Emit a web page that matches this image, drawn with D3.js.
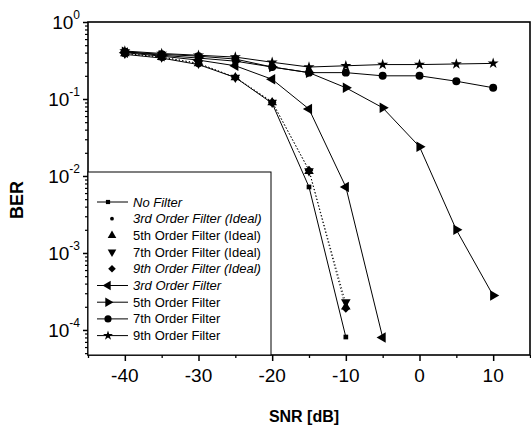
<!DOCTYPE html>
<html>
<head>
<meta charset="utf-8">
<script src="https://cdn.jsdelivr.net/npm/d3@7/dist/d3.min.js"></script>
<style>
  html, body { margin: 0; padding: 0; background: #fff; }
  svg { display: block; }
  text { font-family: "Liberation Sans", Arial, sans-serif; fill: #000; }
</style>
</head>
<body>
<svg id="chart" width="531" height="434"></svg>
<script>
// ---- data ----
const snr = [-40, -35, -30, -25, -20, -15, -10, -5, 0, 5, 10];
const xTicks = [-40, -30, -20, -10, 0, 10];
const xMinorTicks = [-45, -35, -25, -15, -5, 5, 15];
const yTickExps = [0, -1, -2, -3, -4];

const noFilter      = [0.38, 0.34, 0.28, 0.19, 0.088, 0.0072, 8.1e-5];
const ideal3        = [0.39, 0.35, 0.29, 0.19, 0.092, 0.0118, 2.2e-4];
const ideal5        = [0.39, 0.35, 0.29, 0.19, 0.090, 0.0115, 2.0e-4];
const ideal7        = [0.39, 0.35, 0.29, 0.19, 0.090, 0.0116, 2.3e-4];
const ideal9        = [0.39, 0.35, 0.29, 0.19, 0.091, 0.0119, 1.9e-4];
const filter3       = [0.40, 0.36, 0.32, 0.27, 0.18, 0.074, 0.0072, 8.0e-5];
const filter5       = [0.41, 0.37, 0.34, 0.31, 0.26, 0.22, 0.14, 0.077, 0.024, 0.0020, 2.8e-4];
const filter7       = [0.41, 0.38, 0.36, 0.33, 0.26, 0.22, 0.22, 0.20, 0.20, 0.17, 0.14];
const filter9       = [0.42, 0.39, 0.37, 0.35, 0.30, 0.26, 0.27, 0.28, 0.28, 0.285, 0.29];

const seriesNames = [
  "No Filter", "3rd Order Filter (Ideal)", "5th Order Filter (Ideal)",
  "7th Order Filter (Ideal)", "9th Order Filter (Ideal)",
  "3rd Order Filter", "5th Order Filter", "7th Order Filter", "9th Order Filter"
];

// ---- styling / symbol spec (not data) ----
const specs = [
  { values: noFilter, sym: d3.symbolSquare, size: 22, rot: 0, line: "solid", legendLine: true, italic: true },
  { values: ideal3, sym: d3.symbolCircle, size: 14, rot: 0, line: "dot", legendLine: false, italic: true },
  { values: ideal5, sym: d3.symbolTriangle, size: 40, rot: 0, line: "none", legendLine: false, italic: false },
  { values: ideal7, sym: d3.symbolTriangle, size: 40, rot: 180, line: "none", legendLine: false, italic: false },
  { values: ideal9, sym: d3.symbolSquare, size: 36, rot: 45, line: "dot", legendLine: false, italic: true },
  { values: filter3, sym: d3.symbolTriangle, size: 48, rot: -90, line: "solid", legendLine: true, italic: true },
  { values: filter5, sym: d3.symbolTriangle, size: 48, rot: 90, line: "solid", legendLine: true, italic: false },
  { values: filter7, sym: d3.symbolCircle, size: 50, rot: 0, line: "solid", legendLine: true, italic: false },
  { values: filter9, sym: d3.symbolStar, size: 38, rot: 0, line: "solid", legendLine: true, italic: false }
];

const svg = d3.select("#chart");
const L = 88, R = 530, T = 22, B = 355;

const x = d3.scaleLinear().domain([-45, 15]).range([L, R]);
const y = d3.scaleLog().domain([1, 4.73e-5]).range([T, B]);

// frame
svg.append("rect").attr("x", L).attr("y", T).attr("width", R - L).attr("height", B - T)
  .attr("fill", "none").attr("stroke", "#000").attr("stroke-width", 1.6);

// x axis
const gx = svg.append("g").attr("transform", `translate(0,${B})`);
gx.call(d3.axisBottom(x).tickValues(xTicks).tickSize(6).tickFormat(""))
  .call(g => g.select(".domain").remove())
  .call(g => g.selectAll("line").attr("stroke-width", 1.5));
gx.append("g").call(d3.axisBottom(x).tickValues(xMinorTicks).tickSize(3).tickFormat(""))
  .call(g => g.select(".domain").remove())
  .call(g => g.selectAll("line").attr("stroke-width", 1.3));
svg.selectAll(".xlab").data(xTicks).enter().append("text")
  .attr("x", d => x(d)).attr("y", 382)
  .attr("text-anchor", "middle").attr("font-size", 19)
  .text(d => d < 0 ? "-" + Math.abs(d) : String(d));

// y axis
const majorY = yTickExps.map(e => Math.pow(10, e));
const minorY = [];
for (let e = -5; e < 0; e++) for (let m = 2; m <= 9; m++) {
  const v = m * Math.pow(10, e);
  if (v >= 4.73e-5 && v <= 1) minorY.push(v);
}
const gy = svg.append("g").attr("transform", `translate(${L},0)`);
gy.call(d3.axisLeft(y).tickValues(majorY).tickSize(5).tickFormat(""))
  .call(g => g.select(".domain").remove())
  .call(g => g.selectAll("line").attr("stroke-width", 1.5));
gy.append("g").call(d3.axisLeft(y).tickValues(minorY).tickSize(3).tickFormat(""))
  .call(g => g.select(".domain").remove())
  .call(g => g.selectAll("line").attr("stroke-width", 1.2));
const ylab = svg.selectAll(".ylab").data(yTickExps).enter().append("text")
  .attr("x", 80).attr("y", d => y(Math.pow(10, d)) + 7)
  .attr("text-anchor", "end").attr("font-size", 19);
ylab.append("tspan").text("10");
ylab.append("tspan").attr("font-size", 12).attr("dy", -10)
  .text(d => d === 0 ? "0" : "-" + Math.abs(d));

// axis titles
svg.append("text").attr("x", 304).attr("y", 422).attr("text-anchor", "middle")
  .attr("font-size", 16).attr("font-weight", "bold").text("SNR [dB]");
svg.append("text").attr("transform", "translate(23,200) rotate(-90)")
  .attr("text-anchor", "middle").attr("font-size", 18).attr("font-weight", "bold").text("BER");

// series
const line = d3.line().x(d => x(d[0])).y(d => y(d[1]));
const plot = svg.append("g");
specs.forEach((s, i) => {
  if (s.line === "none") return;
  const pts = s.values.map((v, j) => [snr[j], v]);
  plot.append("path").datum(pts).attr("d", line)
    .attr("fill", "none").attr("stroke", "#000")
    .attr("stroke-width", s.line === "dot" ? 0.9 : 1)
    .attr("stroke-dasharray", s.line === "dot" ? "1.2,2.2" : null);
});
specs.forEach((s, i) => {
  const pts = s.values.map((v, j) => [snr[j], v]);
  plot.selectAll(null).data(pts).enter().append("path")
    .attr("d", d3.symbol().type(s.sym).size(s.size))
    .attr("transform", d => `translate(${x(d[0])},${y(d[1])}) rotate(${s.rot})`)
    .attr("fill", "#000");
});

// legend
const lg = svg.append("g");
lg.append("rect").attr("x", L).attr("y", 172).attr("width", 271 - L).attr("height", B - 172)
  .attr("fill", "#fff").attr("stroke", "#000").attr("stroke-width", 1);
specs.forEach((s, i) => {
  const ly = 202 + i * 16.7;
  if (s.legendLine) {
    lg.append("line").attr("x1", 97).attr("x2", 128).attr("y1", ly).attr("y2", ly)
      .attr("stroke", "#000").attr("stroke-width", 1);
  }
  const mx = s.legendLine ? 108 : 112;
  lg.append("path").attr("d", d3.symbol().type(s.sym).size(s.size * 0.8))
    .attr("transform", `translate(${mx},${ly}) rotate(${s.rot})`).attr("fill", "#000");
  lg.append("text").attr("x", 133).attr("y", ly + 4.5).attr("font-size", 13)
    .attr("font-style", s.italic ? "italic" : "normal").text(seriesNames[i]);
});
</script>
</body>
</html>
